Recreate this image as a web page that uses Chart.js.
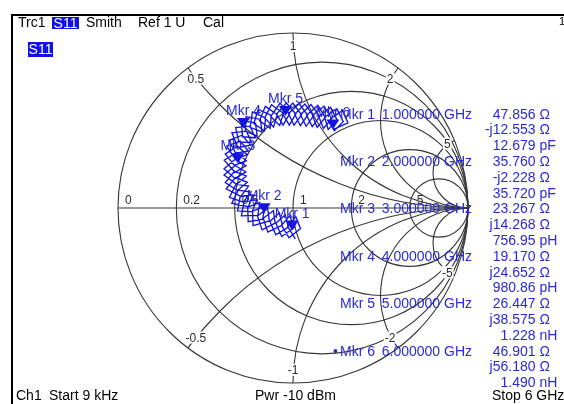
<!DOCTYPE html>
<html><head><meta charset="utf-8">
<script src="https://cdn.jsdelivr.net/npm/chart.js@4.4.1/dist/chart.umd.min.js"></script>
<style>
html,body{margin:0;padding:0;background:#fff;}
#wrap{position:relative;width:564px;height:404px;overflow:hidden;background:#fff;font-family:"Liberation Sans",Arial,sans-serif;}
#c{position:absolute;left:0;top:0;}
.t{position:absolute;white-space:nowrap;font-size:14px;line-height:14px;color:#000;}
.b{color:#2a2ad4;}
.r{text-align:right;}
.box{position:absolute;background:#1010ea;color:#fff;font-size:14px;text-align:center;white-space:nowrap;}
.ln{position:absolute;background:#000;}
</style></head>
<body><div id="wrap"><canvas id="c" width="564" height="404"></canvas>
<div class="ln" style="left:11px;top:14px;width:553px;height:2px;"></div>
<div class="ln" style="left:11px;top:14px;width:2px;height:390px;"></div>
</div>
<script>
const traceRe = [0.013,-0.031,0.016,0.043,-0.023,-0.066,-0.019,0.007,
-0.064,-0.098,-0.044,-0.027,-0.098,-0.132,-0.078,-0.061,
-0.144,-0.170,-0.112,-0.102,-0.177,-0.203,-0.145,-0.135,
-0.228,-0.231,-0.162,-0.173,-0.256,-0.259,-0.190,-0.201,
-0.295,-0.279,-0.207,-0.233,-0.317,-0.302,-0.230,-0.255,
-0.350,-0.313,-0.240,-0.284,-0.363,-0.326,-0.254,-0.298,
-0.382,-0.329,-0.261,-0.317,-0.387,-0.335,-0.267,-0.322,
-0.394,-0.331,-0.269,-0.331,-0.394,-0.331,-0.269,-0.331,
-0.393,-0.322,-0.267,-0.335,-0.387,-0.317,-0.261,-0.329,
-0.379,-0.302,-0.255,-0.327,-0.367,-0.290,-0.243,-0.315,
-0.349,-0.266,-0.236,-0.309,-0.328,-0.246,-0.215,-0.288,
-0.296,-0.214,-0.205,-0.273,-0.268,-0.186,-0.177,-0.245,
-0.232,-0.157,-0.164,-0.224,-0.199,-0.124,-0.131,-0.191,
-0.158,-0.090,-0.111,-0.162,-0.123,-0.055,-0.076,-0.127,
-0.074,-0.020,-0.057,-0.094,-0.038,0.016,-0.021,-0.058,
-0.001,0.049,0.006,-0.026,0.035,0.084,0.042,0.010,
0.068,0.117,0.075,0.043,0.103,0.153,0.110,0.078,
0.142,0.185,0.138,0.111,0.177,0.221,0.174,0.147,
0.215,0.253,0.201,0.181,0.250,0.287,0.236,0.215,
0.284,0.314,0.228];
const traceIm = [-0.176,-0.105,-0.050,-0.118,-0.170,-0.099,-0.044,-0.112,
-0.163,-0.087,-0.038,-0.109,-0.153,-0.077,-0.027,-0.098,
-0.138,-0.059,-0.015,-0.087,-0.125,-0.045,-0.001,-0.074,
-0.101,-0.018,0.009,-0.064,-0.078,0.005,0.031,-0.042,
-0.045,0.037,0.047,-0.021,-0.017,0.065,0.075,0.007,
0.027,0.102,0.091,0.033,0.061,0.135,0.125,0.066,
0.110,0.174,0.147,0.100,0.145,0.209,0.183,0.135,
0.189,0.243,0.206,0.169,0.224,0.278,0.241,0.204,
0.273,0.317,0.270,0.243,0.309,0.352,0.305,0.278,
0.353,0.382,0.326,0.313,0.387,0.416,0.359,0.346,
0.430,0.439,0.373,0.378,0.459,0.468,0.402,0.407,
0.501,0.485,0.412,0.439,0.523,0.506,0.434,0.461,
0.549,0.514,0.441,0.483,0.563,0.529,0.456,0.498,
0.581,0.533,0.463,0.515,0.590,0.542,0.471,0.523,
0.600,0.537,0.474,0.537,0.600,0.537,0.474,0.537,
0.600,0.533,0.473,0.539,0.597,0.530,0.470,0.536,
0.594,0.527,0.467,0.533,0.591,0.524,0.465,0.530,
0.587,0.517,0.461,0.529,0.582,0.511,0.455,0.523,
0.575,0.501,0.449,0.519,0.567,0.493,0.441,0.511,
0.558,0.486,0.448];

const markerNames = ['Mkr 1','Mkr 2','Mkr 3','Mkr 4','Mkr 5','Mkr 6'];
const markerRe = [-0.005,-0.165,-0.315,-0.283,-0.043,0.228];
const markerIm = [-0.129,-0.030,0.256,0.457,0.526,0.448];
const markerFreqs = ['1.000000 GHz','2.000000 GHz','3.000000 GHz','4.000000 GHz','5.000000 GHz','6.000000 GHz'];
const markerRes = ['47.856','35.760','23.267','19.170','26.447','46.901'];
const markerReact = ['-j12.553','-j2.228','j14.268','j24.652','j38.575','j56.180'];
const markerEqVal = ['12.679','35.720','756.95','980.86','1.228','1.490'];
const markerEqUnit = ['pF','pF','pH','pH','nH','nH'];

const resistanceCircles = [0.2, 0.5, 1, 2, 5];
const resistanceLabels = ['0','0.2','0.5','1','2','5'];
const resistanceLabelValues = [0, 0.2, 0.5, 1, 2, 5];
const reactanceArcs = [0.5, 1, 2, 5, -0.5, -1, -2, -5];
const reactanceLabels = ['0.5','1','2','5','-0.5','-1','-2','-5'];

const headerItems = [['Trc1',18],['Smith',86],['Ref 1 U',138],['Cal',203]];
const footerItems = [['Ch1',16],['Start 9 kHz',49],['Pwr -10 dBm',255],['Stop 6 GHz',492]];

// ---- colours ----
const gridColor = '#363636';
const traceColor = '#1212e6';
const markerColor = '#1414dc';
const labelColor = '#2a2a2a';

// ---- Smith grid + marker plugin ----
const smithGrid = {
  id: 'smithGrid',
  beforeDatasetsDraw(chart) {
    const ctx = chart.ctx, xs = chart.scales.x, ys = chart.scales.y;
    const px = v => xs.getPixelForValue(v), py = v => ys.getPixelForValue(v);
    const unit = px(1) - px(0);
    const cx0 = px(0), cy0 = py(0);
    ctx.save();
    ctx.strokeStyle = gridColor; ctx.lineWidth = 1.1;
    ctx.beginPath(); ctx.arc(cx0, cy0, unit, 0, 2*Math.PI); ctx.stroke();
    ctx.beginPath(); ctx.moveTo(px(-1), cy0); ctx.lineTo(px(1), cy0); ctx.stroke();
    resistanceCircles.forEach(r => {
      ctx.beginPath(); ctx.arc(px(r/(1+r)), cy0, unit/(1+r), 0, 2*Math.PI); ctx.stroke();
    });
    ctx.save();
    ctx.beginPath(); ctx.arc(cx0, cy0, unit, 0, 2*Math.PI); ctx.clip();
    reactanceArcs.forEach(xv => {
      ctx.beginPath(); ctx.arc(px(1), py(1/xv), unit/Math.abs(xv), 0, 2*Math.PI); ctx.stroke();
    });
    ctx.restore();
    ctx.font = '12px "Liberation Sans", Arial, sans-serif';
    ctx.fillStyle = labelColor;
    ctx.textAlign = 'left'; ctx.textBaseline = 'alphabetic';
    resistanceLabelValues.forEach((r, i) => {
      ctx.fillText(resistanceLabels[i], px((r-1)/(r+1)) + 7, cy0 - 4);
    });
    ctx.textAlign = 'center'; ctx.textBaseline = 'middle';
    reactanceArcs.forEach((xv, i) => {
      const re = (xv*xv-1)/(xv*xv+1), im = 2*xv/(xv*xv+1);
      const k = Math.abs(xv) >= 5 ? 0.955 : 0.925;
      const x = px(re*k), y = py(im*k);
      const w = ctx.measureText(reactanceLabels[i]).width + 2;
      ctx.fillStyle = '#fff'; ctx.fillRect(x - w/2, y - 6, w, 12);
      ctx.fillStyle = labelColor; ctx.fillText(reactanceLabels[i], x, y + 1);
    });
    ctx.restore();
  },
  afterDatasetsDraw(chart) {
    const ctx = chart.ctx, xs = chart.scales.x, ys = chart.scales.y;
    ctx.save();
    ctx.font = '14px "Liberation Sans", Arial, sans-serif';
    ctx.textAlign = 'center'; ctx.textBaseline = 'alphabetic';
    markerRe.forEach((re, i) => {
      const x = xs.getPixelForValue(re), y = ys.getPixelForValue(markerIm[i]);
      ctx.fillStyle = markerColor;
      ctx.beginPath(); ctx.moveTo(x, y); ctx.lineTo(x-6.5, y-10); ctx.lineTo(x+6.5, y-10); ctx.closePath(); ctx.fill();
      ctx.fillStyle = '#2a2ad4';
      ctx.fillText(markerNames[i], x, y - 13);
    });
    ctx.restore();
  }
};

new Chart(document.getElementById('c'), {
  type: 'scatter',
  data: { datasets: [{
    label: 'S11',
    data: traceRe.map((v, i) => ({x: v, y: traceIm[i]})),
    showLine: true, borderColor: traceColor, borderWidth: 1.35, pointRadius: 0, tension: 0, fill: false
  }]},
  options: {
    responsive: false, animation: false, events: [],
    layout: { padding: { left: 118, right: 96, top: 33, bottom: 21 } },
    scales: {
      x: { type: 'linear', min: -1, max: 1, display: false },
      y: { type: 'linear', min: -1, max: 1, display: false }
    },
    plugins: { legend: { display: false }, tooltip: { enabled: false } }
  },
  plugins: [smithGrid]
});

// ---- text around the chart ----
const wrap = document.getElementById('wrap');
function addText(txt, opts) {
  const d = document.createElement('div');
  d.className = 't' + (opts.cls ? ' ' + opts.cls : '');
  d.textContent = txt;
  if (opts.left !== undefined) d.style.left = opts.left + 'px';
  if (opts.right !== undefined) d.style.right = (564 - opts.right) + 'px';
  d.style.top = (opts.base - 12) + 'px';
  if (opts.size) d.style.fontSize = opts.size + 'px';
  wrap.appendChild(d);
}
headerItems.forEach(h => addText(h[0], {left: h[1], base: 27}));
footerItems.forEach(f => addText(f[0], {left: f[1], base: 400}));
addText('1', {left: 559, base: 26, size: 11});
function addBox(txt, l, t, w, h) {
  const d = document.createElement('div');
  d.className = 'box'; d.textContent = txt;
  d.style.left = l + 'px'; d.style.top = t + 'px'; d.style.width = w + 'px'; d.style.height = h + 'px'; d.style.lineHeight = h + 'px';
  wrap.appendChild(d);
}
addBox('S11', 52, 17, 27, 12);
addBox('S11', 28, 42, 25, 15);
const rowStep = 15.8, row0 = 118.5;
markerNames.forEach((n, k) => {
  const b0 = row0 + rowStep * 3 * k;
  addText(n, {left: 340, base: b0, cls: 'b'});
  if (k === markerNames.length - 1) addText('\u2022', {left: 333, base: b0, cls: 'b'});
  addText(markerFreqs[k], {right: 472, base: b0, cls: 'b r'});
  addText(markerRes[k], {right: 535.5, base: b0, cls: 'b r'});
  addText('\u03A9', {left: 539.5, base: b0, cls: 'b'});
  addText(markerReact[k], {right: 535.5, base: b0 + rowStep, cls: 'b r'});
  addText('\u03A9', {left: 539.5, base: b0 + rowStep, cls: 'b'});
  addText(markerEqVal[k], {right: 535.5, base: b0 + 2*rowStep, cls: 'b r'});
  addText(markerEqUnit[k], {left: 539.5, base: b0 + 2*rowStep, cls: 'b'});
});
</script></body></html>
